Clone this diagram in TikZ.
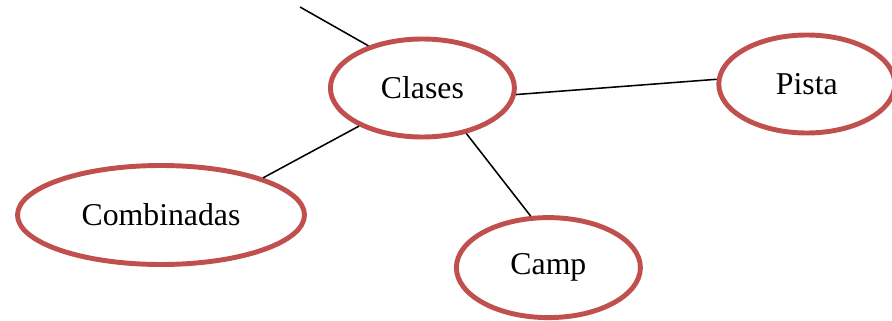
\documentclass[tikz,border=0pt]{standalone}
\usepackage{fontspec}
\setmainfont{Liberation Serif}
\usetikzlibrary{shapes.geometric}
\definecolor{ovalred}{HTML}{C0504D}
\begin{document}
\begin{tikzpicture}[font=\fontsize{22.6}{26}\selectfont,
      oval/.style={ellipse, draw=ovalred, line width=3.5pt, inner sep=0pt, minimum width=4.6cm, minimum height=2.45cm},
      wide/.style={oval, minimum width=7.175cm, minimum height=2.475cm},
      link/.style={line width=1.1pt}]
    \useasboundingbox (0,0) rectangle (22.3,-8.025);
    \node[oval]  (cla) at (10.56,-2.2)  {Clases};
    \node[oval, minimum width=4.4cm]  (pis) at (20.17,-2.1) {Pista};
    \node[wide]  (com) at (4.025,-5.375) {Combinadas};
    \node[oval, minimum height=2.5cm]  (cam) at (13.71,-6.69)  {Camp};
    \coordinate (up) at (7.5,-0.175);
    \draw[link] (up) -- (cla.142);
    \draw[link] (cla.-4) -- (pis.177);
    \draw[link] (cla.211) -- (com.20);
    \draw[link] (cla.-46) -- (cam.109);
  \end{tikzpicture}
\end{document}
